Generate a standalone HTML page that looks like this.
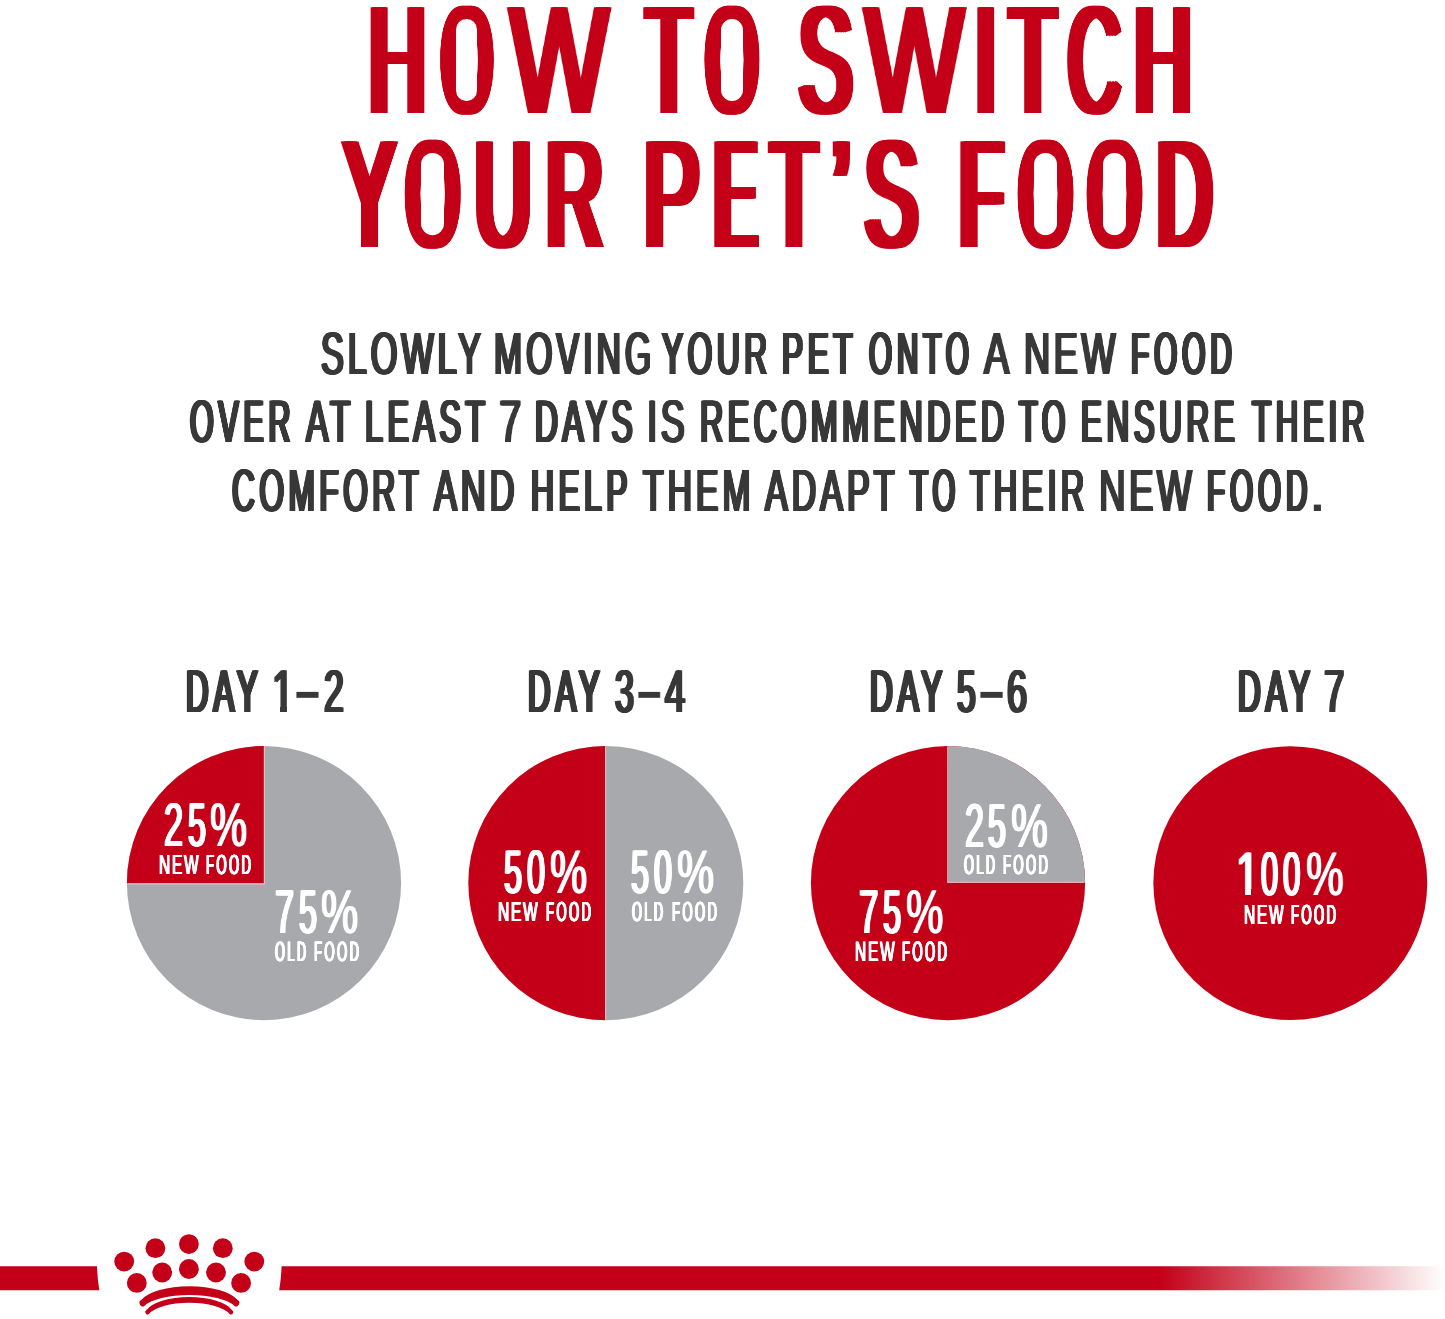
<!DOCTYPE html>
<html lang="en">
<head>
<meta charset="utf-8">
<title>How to switch your pet's food</title>
<style>
html,body{margin:0;padding:0;background:#fff;}
body{width:1445px;height:1319px;position:relative;overflow:hidden;font-family:"Liberation Sans",sans-serif;}
.t{position:absolute;white-space:nowrap;line-height:1;font-weight:400;transform-origin:0 0;margin:0;padding:0;text-rendering:geometricPrecision;will-change:transform;}
svg{position:absolute;left:0;top:0;}
.m{position:absolute;display:block;}
</style>
</head>
<body>
<svg width="1445" height="1319" viewBox="0 0 1445 1319">
  <defs>
    <linearGradient id="fade" gradientUnits="userSpaceOnUse" x1="1160" y1="0" x2="1445" y2="0">
      <stop offset="0" stop-color="#c40018"/>
      <stop offset="1" stop-color="#ffffff"/>
    </linearGradient>
  </defs>
  <!-- pie 1 : 25% new / 75% old -->
  <circle cx="264.0" cy="883.1" r="137.1" fill="#a8a9ac"/>
  <path d="M263.9 883.2 L126.90 883.2 A137.1 137.1 0 0 1 263.9 746.00 Z" fill="#c40018"/>
  <!-- pie 2 : 50 / 50 -->
  <circle cx="606.2" cy="883.1" r="137.1" fill="#a8a9ac"/>
  <path d="M605.4 746.00 A137.1 137.1 0 0 0 605.4 1020.20 Z" fill="#c40018"/>
  <!-- pie 3 : 75% new / 25% old -->
  <circle cx="948.0" cy="883.1" r="137.1" fill="#c40018"/>
  <path d="M948.1 882.0 L948.1 746.00 A137.1 137.1 0 0 1 1085.10 882.0 Z" fill="#a8a9ac"/>
  <g stroke="#ecc9cc" stroke-width="1.1" fill="none" stroke-opacity="0.85">
    <path d="M127.40 883.9 L264.4 883.9 L264.4 746.30"/>
    <path d="M605.6 746.30 L605.6 1019.90"/>
    <path d="M947.7 746.30 L947.7 882.4 L1084.60 882.4"/>
  </g>
  <!-- pie 4 : 100% -->
  <circle cx="1290.3" cy="883.1" r="136.95" fill="#c40018"/>

  <!-- footer bar -->
  <path d="M0 1266.2 L97.0 1266.2 Q97.4 1279 99.3 1290.2 L0 1290.2 Z" fill="#c40018"/>
  <path d="M281.6 1266.2 L1445 1266.2 L1445 1290.2 L279.2 1290.2 Q281.1 1279 281.6 1266.2 Z" fill="url(#fade)"/>

  <!-- crown -->
  <g fill="#c40018">
    <circle cx="155.4" cy="1248.2" r="9.9"/>
    <circle cx="188.9" cy="1244.1" r="9.9"/>
    <circle cx="222.8" cy="1248.2" r="9.9"/>
    <circle cx="124.2" cy="1261.6" r="9.9"/>
    <circle cx="254.3" cy="1261.6" r="9.9"/>
    <circle cx="162.2" cy="1272.5" r="9.9"/>
    <circle cx="188.9" cy="1269"   r="9.9"/>
    <circle cx="216"   cy="1272.5" r="9.9"/>
    <circle cx="136.8" cy="1282.9" r="9.9"/>
    <circle cx="241.1" cy="1282.9" r="9.9"/>
  </g>
  <path d="M141.24 1300.09 A50.46 19.8 0 0 1 237.56 1300.09 A3.3 3.3 0 0 1 234.44 1305.91 A47.48 16.1 0 0 0 144.36 1305.91 A3.3 3.3 0 0 1 141.24 1300.09 Z" fill="#c40018"/>
  <path d="M146.33 1310.22 A44.52 18 0 0 1 232.17 1310.22 A2.3 2.3 0 0 1 229.83 1314.18 A42.21 15.7 0 0 0 148.67 1314.18 A2.3 2.3 0 0 1 146.33 1310.22 Z" fill="#c40018"/>
</svg>
<div><span class="t" style="left:368.61px;top:-15.90px;font-size:153.75px;letter-spacing:28.38px;transform:scaleX(0.5129);color:#c40018;text-shadow:3.17px 0 0,-3.17px 0 0,6.34px 0 0,-6.34px 0 0,9.50px 0 0,-9.50px 0 0">H</span><span class="t" style="left:441.90px;top:-15.90px;font-size:153.75px;letter-spacing:40.64px;transform:scaleX(0.4175);color:#c40018;text-shadow:2.94px 0 0,-2.94px 0 0,5.88px 0 0,-5.88px 0 0,8.82px 0 0,-8.82px 0 0,11.76px 0 0,-11.76px 0 0">O</span><i class="m" style="left:456.40px;top:18.80px;width:20.90px;height:81.90px;border-radius:10.45px;background:#fff"></i><span class="t" style="left:510.10px;top:-15.90px;font-size:153.75px;letter-spacing:12.11px;transform:scaleX(0.6766);color:#c40018;text-shadow:2.74px 0 0,-2.74px 0 0,5.47px 0 0,-5.47px 0 0">W</span> <span class="t" style="left:647.01px;top:-15.90px;font-size:153.75px;letter-spacing:35.22px;transform:scaleX(0.4656);color:#c40018;text-shadow:2.80px 0 0,-2.80px 0 0,5.60px 0 0,-5.60px 0 0,8.40px 0 0,-8.40px 0 0,11.20px 0 0,-11.20px 0 0">T</span><span class="t" style="left:706.16px;top:-15.90px;font-size:153.75px;letter-spacing:37.61px;transform:scaleX(0.4340);color:#c40018;text-shadow:2.76px 0 0,-2.76px 0 0,5.52px 0 0,-5.52px 0 0,8.28px 0 0,-8.28px 0 0,11.03px 0 0,-11.03px 0 0">O</span><i class="m" style="left:720.90px;top:18.80px;width:22.40px;height:81.90px;border-radius:11.20px;background:#fff"></i> <span class="t" style="left:798.68px;top:-15.90px;font-size:153.75px;letter-spacing:27.69px;transform:scaleX(0.5182);color:#c40018;text-shadow:3.11px 0 0,-3.11px 0 0,6.22px 0 0,-6.22px 0 0,9.33px 0 0,-9.33px 0 0">S</span><span class="t" style="left:865.08px;top:-15.90px;font-size:153.75px;letter-spacing:11.94px;transform:scaleX(0.6789);color:#c40018;text-shadow:2.71px 0 0,-2.71px 0 0,5.43px 0 0,-5.43px 0 0">W</span><span class="t" style="left:974.05px;top:-15.90px;font-size:153.75px;letter-spacing:0.00px;transform:scaleX(0.5500);color:#c40018;text-shadow:2.64px 0 0,-2.64px 0 0,5.28px 0 0,-5.28px 0 0,7.92px 0 0,-7.92px 0 0">I</span><span class="t" style="left:1009.69px;top:-15.90px;font-size:153.75px;letter-spacing:32.07px;transform:scaleX(0.4862);color:#c40018;text-shadow:2.60px 0 0,-2.60px 0 0,5.21px 0 0,-5.21px 0 0,7.81px 0 0,-7.81px 0 0,10.42px 0 0,-10.42px 0 0">T</span><span class="t" style="left:1067.84px;top:-15.90px;font-size:153.75px;letter-spacing:31.56px;transform:scaleX(0.4713);color:#c40018;text-shadow:3.20px 0 0,-3.20px 0 0,6.40px 0 0,-6.40px 0 0,9.60px 0 0,-9.60px 0 0">C</span><span class="t" style="left:1134.44px;top:-15.90px;font-size:153.75px;letter-spacing:27.30px;transform:scaleX(0.5213);color:#c40018;text-shadow:3.08px 0 0,-3.08px 0 0,6.16px 0 0,-6.16px 0 0,9.24px 0 0,-9.24px 0 0">H</span></div>
<div><span class="t" style="left:344.23px;top:118.10px;font-size:153.46px;letter-spacing:30.50px;transform:scaleX(0.4978);color:#c40018;text-shadow:3.34px 0 0,-3.34px 0 0,6.68px 0 0,-6.68px 0 0,10.02px 0 0,-10.02px 0 0">Y</span><span class="t" style="left:405.79px;top:118.10px;font-size:153.46px;letter-spacing:35.46px;transform:scaleX(0.4470);color:#c40018;text-shadow:2.63px 0 0,-2.63px 0 0,5.26px 0 0,-5.26px 0 0,7.89px 0 0,-7.89px 0 0,10.52px 0 0,-10.52px 0 0">O</span><i class="m" style="left:420.70px;top:153.40px;width:23.50px;height:81.70px;border-radius:11.75px;background:#fff"></i><span class="t" style="left:474.93px;top:118.10px;font-size:153.46px;letter-spacing:29.30px;transform:scaleX(0.5066);color:#c40018;text-shadow:3.24px 0 0,-3.24px 0 0,6.48px 0 0,-6.48px 0 0,9.73px 0 0,-9.73px 0 0">U</span><span class="t" style="left:546.22px;top:118.10px;font-size:153.46px;letter-spacing:28.45px;transform:scaleX(0.5129);color:#c40018;text-shadow:3.17px 0 0,-3.17px 0 0,6.34px 0 0,-6.34px 0 0,9.52px 0 0,-9.52px 0 0">R</span> <span class="t" style="left:643.52px;top:118.10px;font-size:153.46px;letter-spacing:24.69px;transform:scaleX(0.5433);color:#c40018;text-shadow:2.86px 0 0,-2.86px 0 0,5.72px 0 0,-5.72px 0 0,8.58px 0 0,-8.58px 0 0">P</span><span class="t" style="left:715.38px;top:118.10px;font-size:153.46px;letter-spacing:47.78px;transform:scaleX(0.3984);color:#c40018;text-shadow:2.86px 0 0,-2.86px 0 0,5.72px 0 0,-5.72px 0 0,8.58px 0 0,-8.58px 0 0,11.45px 0 0,-11.45px 0 0,14.31px 0 0,-14.31px 0 0">E</span><span class="t" style="left:771.36px;top:118.10px;font-size:153.46px;letter-spacing:31.61px;transform:scaleX(0.4899);color:#c40018;text-shadow:2.57px 0 0,-2.57px 0 0,5.15px 0 0,-5.15px 0 0,7.72px 0 0,-7.72px 0 0,10.30px 0 0,-10.30px 0 0">T</span><span class="t" style="left:831.75px;top:118.10px;font-size:153.46px;letter-spacing:0.00px;transform:scaleX(0.5500);color:#c40018;text-shadow:2.81px 0 0,-2.81px 0 0,5.61px 0 0,-5.61px 0 0,8.42px 0 0,-8.42px 0 0">’</span><span class="t" style="left:864.73px;top:118.10px;font-size:153.46px;letter-spacing:28.16px;transform:scaleX(0.5151);color:#c40018;text-shadow:3.15px 0 0,-3.15px 0 0,6.30px 0 0,-6.30px 0 0,9.44px 0 0,-9.44px 0 0">S</span> <span class="t" style="left:959.87px;top:118.10px;font-size:153.46px;letter-spacing:37.07px;transform:scaleX(0.4547);color:#c40018;text-shadow:2.91px 0 0,-2.91px 0 0,5.83px 0 0,-5.83px 0 0,8.74px 0 0,-8.74px 0 0,11.65px 0 0,-11.65px 0 0">F</span><span class="t" style="left:1018.83px;top:118.10px;font-size:153.46px;letter-spacing:36.02px;transform:scaleX(0.4437);color:#c40018;text-shadow:2.66px 0 0,-2.66px 0 0,5.33px 0 0,-5.33px 0 0,7.99px 0 0,-7.99px 0 0,10.65px 0 0,-10.65px 0 0">O</span><i class="m" style="left:1033.70px;top:153.40px;width:23.20px;height:81.70px;border-radius:11.60px;background:#fff"></i><span class="t" style="left:1087.63px;top:118.10px;font-size:153.46px;letter-spacing:36.02px;transform:scaleX(0.4437);color:#c40018;text-shadow:2.66px 0 0,-2.66px 0 0,5.33px 0 0,-5.33px 0 0,7.99px 0 0,-7.99px 0 0,10.65px 0 0,-10.65px 0 0">O</span><i class="m" style="left:1102.50px;top:153.40px;width:23.20px;height:81.70px;border-radius:11.60px;background:#fff"></i><span class="t" style="left:1157.48px;top:118.10px;font-size:153.46px;letter-spacing:30.93px;transform:scaleX(0.4947);color:#c40018;text-shadow:2.53px 0 0,-2.53px 0 0,5.07px 0 0,-5.07px 0 0,7.60px 0 0,-7.60px 0 0,10.13px 0 0,-10.13px 0 0">D</span></div>
<div><span class="t" style="left:321.24px;top:324.10px;font-size:59.76px;letter-spacing:7.07px;transform:scaleX(0.5709);color:#383838;text-shadow:1.23px 0 0,-1.23px 0 0,2.47px 0 0,-2.47px 0 0">SLOWLY</span> <span class="t" style="left:494.07px;top:324.10px;font-size:59.76px;letter-spacing:7.33px;transform:scaleX(0.5634);color:#383838;text-shadow:1.27px 0 0,-1.27px 0 0,2.54px 0 0,-2.54px 0 0">MOVING</span> <span class="t" style="left:662.10px;top:324.10px;font-size:59.76px;letter-spacing:8.64px;transform:scaleX(0.5292);color:#383838;text-shadow:0.96px 0 0,-0.96px 0 0,1.92px 0 0,-1.92px 0 0,2.88px 0 0,-2.88px 0 0">YOUR</span> <span class="t" style="left:782.14px;top:324.10px;font-size:59.76px;letter-spacing:8.68px;transform:scaleX(0.5282);color:#383838;text-shadow:0.96px 0 0,-0.96px 0 0,1.93px 0 0,-1.93px 0 0,2.89px 0 0,-2.89px 0 0">PET</span> <span class="t" style="left:868.94px;top:324.10px;font-size:59.76px;letter-spacing:10.18px;transform:scaleX(0.4939);color:#383838;text-shadow:1.10px 0 0,-1.10px 0 0,2.19px 0 0,-2.19px 0 0,3.29px 0 0,-3.29px 0 0">ONTO</span> <span class="t" style="left:984.42px;top:324.10px;font-size:59.76px;letter-spacing:5.09px;transform:scaleX(0.6334);color:#383838;text-shadow:0.98px 0 0,-0.98px 0 0,1.95px 0 0,-1.95px 0 0">A</span> <span class="t" style="left:1024.35px;top:324.10px;font-size:59.76px;letter-spacing:5.96px;transform:scaleX(0.6045);color:#383838;text-shadow:1.09px 0 0,-1.09px 0 0,2.18px 0 0,-2.18px 0 0">NEW</span> <span class="t" style="left:1130.88px;top:324.10px;font-size:59.76px;letter-spacing:10.01px;transform:scaleX(0.4975);color:#383838;text-shadow:1.08px 0 0,-1.08px 0 0,2.16px 0 0,-2.16px 0 0,3.25px 0 0,-3.25px 0 0">FOOD</span></div>
<div><span class="t" style="left:190.17px;top:392.10px;font-size:60.05px;letter-spacing:9.65px;transform:scaleX(0.5040);color:#383838;text-shadow:1.05px 0 0,-1.05px 0 0,2.10px 0 0,-2.10px 0 0,3.15px 0 0,-3.15px 0 0">OVER</span> <span class="t" style="left:306.43px;top:392.10px;font-size:60.05px;letter-spacing:7.46px;transform:scaleX(0.5580);color:#383838;text-shadow:1.29px 0 0,-1.29px 0 0,2.58px 0 0,-2.58px 0 0">AT</span> <span class="t" style="left:365.34px;top:392.10px;font-size:60.05px;letter-spacing:8.21px;transform:scaleX(0.5383);color:#383838;text-shadow:0.92px 0 0,-0.92px 0 0,1.85px 0 0,-1.85px 0 0,2.77px 0 0,-2.77px 0 0">LEAST</span> <span class="t" style="left:498.67px;top:392.10px;font-size:60.05px;letter-spacing:4.00px;transform:scaleX(0.6719);color:#383838;text-shadow:0.83px 0 0,-0.83px 0 0,1.67px 0 0,-1.67px 0 0">7</span> <span class="t" style="left:534.92px;top:392.10px;font-size:60.05px;letter-spacing:8.64px;transform:scaleX(0.5275);color:#383838;text-shadow:0.96px 0 0,-0.96px 0 0,1.93px 0 0,-1.93px 0 0,2.89px 0 0,-2.89px 0 0">DAYS</span> <span class="t" style="left:647.38px;top:392.10px;font-size:60.05px;letter-spacing:5.97px;transform:scaleX(0.6020);color:#383838;text-shadow:1.09px 0 0,-1.09px 0 0,2.18px 0 0,-2.18px 0 0">IS</span> <span class="t" style="left:700.15px;top:392.10px;font-size:60.05px;letter-spacing:8.27px;transform:scaleX(0.5368);color:#383838;text-shadow:0.93px 0 0,-0.93px 0 0,1.86px 0 0,-1.86px 0 0,2.79px 0 0,-2.79px 0 0">RECOMMENDED</span> <span class="t" style="left:1019.21px;top:392.10px;font-size:60.05px;letter-spacing:9.61px;transform:scaleX(0.5050);color:#383838;text-shadow:1.05px 0 0,-1.05px 0 0,2.09px 0 0,-2.09px 0 0,3.14px 0 0,-3.14px 0 0">TO</span> <span class="t" style="left:1080.58px;top:392.10px;font-size:60.05px;letter-spacing:8.91px;transform:scaleX(0.5210);color:#383838;text-shadow:0.99px 0 0,-0.99px 0 0,1.97px 0 0,-1.97px 0 0,2.96px 0 0,-2.96px 0 0">ENSURE</span> <span class="t" style="left:1251.54px;top:392.10px;font-size:60.05px;letter-spacing:8.94px;transform:scaleX(0.5205);color:#383838;text-shadow:0.99px 0 0,-0.99px 0 0,1.98px 0 0,-1.98px 0 0,2.96px 0 0,-2.96px 0 0">THEIR</span></div>
<div><span class="t" style="left:232.13px;top:461.10px;font-size:59.76px;letter-spacing:8.68px;transform:scaleX(0.5281);color:#383838;text-shadow:0.97px 0 0,-0.97px 0 0,1.93px 0 0,-1.93px 0 0,2.90px 0 0,-2.90px 0 0">COMFORT</span> <span class="t" style="left:433.79px;top:461.10px;font-size:59.76px;letter-spacing:6.95px;transform:scaleX(0.5742);color:#383838;text-shadow:1.22px 0 0,-1.22px 0 0,2.44px 0 0,-2.44px 0 0">AND</span> <span class="t" style="left:530.73px;top:461.10px;font-size:59.76px;letter-spacing:8.61px;transform:scaleX(0.5300);color:#383838;text-shadow:0.96px 0 0,-0.96px 0 0,1.92px 0 0,-1.92px 0 0,2.88px 0 0,-2.88px 0 0">HELP</span> <span class="t" style="left:642.89px;top:461.10px;font-size:59.76px;letter-spacing:7.43px;transform:scaleX(0.5607);color:#383838;text-shadow:1.28px 0 0,-1.28px 0 0,2.57px 0 0,-2.57px 0 0">THEM</span> <span class="t" style="left:764.71px;top:461.10px;font-size:59.76px;letter-spacing:7.18px;transform:scaleX(0.5676);color:#383838;text-shadow:1.25px 0 0,-1.25px 0 0,2.50px 0 0,-2.50px 0 0">ADAPT</span> <span class="t" style="left:909.68px;top:461.10px;font-size:59.76px;letter-spacing:10.34px;transform:scaleX(0.4906);color:#383838;text-shadow:1.11px 0 0,-1.11px 0 0,2.22px 0 0,-2.22px 0 0,3.33px 0 0,-3.33px 0 0">TO</span> <span class="t" style="left:970.39px;top:461.10px;font-size:59.76px;letter-spacing:8.34px;transform:scaleX(0.5366);color:#383838;text-shadow:0.94px 0 0,-0.94px 0 0,1.87px 0 0,-1.87px 0 0,2.81px 0 0,-2.81px 0 0">THEIR</span> <span class="t" style="left:1098.66px;top:461.10px;font-size:59.76px;letter-spacing:5.60px;transform:scaleX(0.6161);color:#383838;text-shadow:1.04px 0 0,-1.04px 0 0,2.08px 0 0,-2.08px 0 0">NEW</span> <span class="t" style="left:1206.80px;top:461.10px;font-size:59.76px;letter-spacing:10.17px;transform:scaleX(0.4942);color:#383838;text-shadow:1.10px 0 0,-1.10px 0 0,2.19px 0 0,-2.19px 0 0,3.29px 0 0,-3.29px 0 0">FOOD</span><span class="t" style="left:1306.98px;top:461.10px;font-size:59.76px;letter-spacing:0.00px;transform:scaleX(1.2509);color:#383838;text-shadow:none">.</span></div>
<div><span class="t" style="left:185.94px;top:662.10px;font-size:60.20px;letter-spacing:9.61px;transform:scaleX(0.5176);color:#383838;text-shadow:1.09px 0 0,-1.09px 0 0,2.19px 0 0,-2.19px 0 0,3.28px 0 0,-3.28px 0 0">DAY</span> <span class="t" style="left:271.57px;top:662.10px;font-size:60.20px;transform:scaleX(0.6538);color:#383838;text-shadow:1.18px 0 0,-1.18px 0 0,2.37px 0 0,-2.37px 0 0">1</span><i class="m" style="left:271.51px;top:706.29px;width:8.39px;height:6.91px;background:#fff"></i><i class="m" style="left:286.50px;top:706.29px;width:8.07px;height:6.91px;background:#fff"></i><span class="t" style="left:295.15px;top:661.10px;font-size:60.20px;font-weight:700;letter-spacing:0.00px;transform:scaleX(0.7416);color:#383838;text-shadow:none">–</span><span class="t" style="left:323.50px;top:662.10px;font-size:60.20px;letter-spacing:6.78px;transform:scaleX(0.5915);color:#383838;text-shadow:1.26px 0 0,-1.26px 0 0,2.52px 0 0,-2.52px 0 0">2</span></div>
<div><span class="t" style="left:527.94px;top:662.10px;font-size:60.20px;letter-spacing:9.61px;transform:scaleX(0.5176);color:#383838;text-shadow:1.09px 0 0,-1.09px 0 0,2.19px 0 0,-2.19px 0 0,3.28px 0 0,-3.28px 0 0">DAY</span> <span class="t" style="left:614.96px;top:662.10px;font-size:60.20px;letter-spacing:7.77px;transform:scaleX(0.5635);color:#383838;text-shadow:0.93px 0 0,-0.93px 0 0,1.86px 0 0,-1.86px 0 0,2.78px 0 0,-2.78px 0 0">3</span><span class="t" style="left:637.47px;top:661.10px;font-size:60.20px;font-weight:700;letter-spacing:0.00px;transform:scaleX(0.7315);color:#383838;text-shadow:none">–</span><span class="t" style="left:665.33px;top:662.10px;font-size:60.20px;letter-spacing:6.44px;transform:scaleX(0.6020);color:#383838;text-shadow:1.21px 0 0,-1.21px 0 0,2.43px 0 0,-2.43px 0 0">4</span></div>
<div><span class="t" style="left:869.69px;top:662.10px;font-size:60.20px;letter-spacing:9.34px;transform:scaleX(0.5237);color:#383838;text-shadow:1.07px 0 0,-1.07px 0 0,2.14px 0 0,-2.14px 0 0,3.21px 0 0,-3.21px 0 0">DAY</span> <span class="t" style="left:956.97px;top:662.10px;font-size:60.20px;letter-spacing:7.93px;transform:scaleX(0.5590);color:#383838;text-shadow:0.94px 0 0,-0.94px 0 0,1.89px 0 0,-1.89px 0 0,2.83px 0 0,-2.83px 0 0">5</span><span class="t" style="left:979.24px;top:661.10px;font-size:60.20px;font-weight:700;letter-spacing:0.00px;transform:scaleX(0.7483);color:#383838;text-shadow:none">–</span><span class="t" style="left:1007.26px;top:662.10px;font-size:60.20px;letter-spacing:6.64px;transform:scaleX(0.5957);color:#383838;text-shadow:1.24px 0 0,-1.24px 0 0,2.48px 0 0,-2.48px 0 0">6</span></div>
<div><span class="t" style="left:1237.61px;top:662.10px;font-size:60.20px;letter-spacing:9.45px;transform:scaleX(0.5212);color:#383838;text-shadow:1.08px 0 0,-1.08px 0 0,2.16px 0 0,-2.16px 0 0,3.24px 0 0,-3.24px 0 0">DAY</span> <span class="t" style="left:1323.57px;top:662.10px;font-size:60.20px;letter-spacing:6.16px;transform:scaleX(0.6106);color:#383838;text-shadow:1.18px 0 0,-1.18px 0 0,2.35px 0 0,-2.35px 0 0">7</span></div>
<div><span class="t" style="left:163.81px;top:795.10px;font-size:61.67px;letter-spacing:8.34px;transform:scaleX(0.5553);color:#fff;text-shadow:1.02px 0 0,-1.02px 0 0,2.03px 0 0,-2.03px 0 0">2</span><span class="t" style="left:187.52px;top:795.10px;font-size:61.67px;letter-spacing:9.65px;transform:scaleX(0.5206);color:#fff;text-shadow:1.18px 0 0,-1.18px 0 0,2.36px 0 0,-2.36px 0 0">5</span><span class="t" style="left:210.21px;top:795.10px;font-size:61.67px;letter-spacing:4.89px;transform:scaleX(0.6746);color:#fff;text-shadow:1.17px 0 0,-1.17px 0 0">%</span></div>
<div><span class="t" style="left:159.27px;top:851.10px;font-size:27.70px;letter-spacing:3.38px;transform:scaleX(0.5555);color:#fff;text-shadow:0.57px 0 0,-0.57px 0 0,1.14px 0 0,-1.14px 0 0">NEW</span> <span class="t" style="left:206.26px;top:851.10px;font-size:27.70px;letter-spacing:4.99px;transform:scaleX(0.4739);color:#fff;text-shadow:0.52px 0 0,-0.52px 0 0,1.04px 0 0,-1.04px 0 0,1.56px 0 0,-1.56px 0 0">FOOD</span></div>
<div><span class="t" style="left:274.78px;top:882.10px;font-size:61.71px;letter-spacing:8.29px;transform:scaleX(0.5567);color:#fff;text-shadow:1.01px 0 0,-1.01px 0 0,2.02px 0 0,-2.02px 0 0">7</span><span class="t" style="left:298.54px;top:882.10px;font-size:61.71px;letter-spacing:9.62px;transform:scaleX(0.5212);color:#fff;text-shadow:1.18px 0 0,-1.18px 0 0,2.35px 0 0,-2.35px 0 0">5</span><span class="t" style="left:321.26px;top:882.10px;font-size:61.71px;letter-spacing:4.87px;transform:scaleX(0.6752);color:#fff;text-shadow:1.16px 0 0,-1.16px 0 0">%</span></div>
<div><span class="t" style="left:274.76px;top:938.10px;font-size:27.85px;letter-spacing:5.35px;transform:scaleX(0.4575);color:#fff;text-shadow:0.55px 0 0,-0.55px 0 0,1.10px 0 0,-1.10px 0 0,1.65px 0 0,-1.65px 0 0">OLD</span> <span class="t" style="left:314.06px;top:938.10px;font-size:27.85px;letter-spacing:5.02px;transform:scaleX(0.4715);color:#fff;text-shadow:0.52px 0 0,-0.52px 0 0,1.04px 0 0,-1.04px 0 0,1.57px 0 0,-1.57px 0 0">FOOD</span></div>
<div><span class="t" style="left:503.64px;top:842.10px;font-size:61.44px;letter-spacing:9.37px;transform:scaleX(0.5286);color:#fff;text-shadow:1.15px 0 0,-1.15px 0 0,2.29px 0 0,-2.29px 0 0">5</span><span class="t" style="left:526.88px;top:842.10px;font-size:61.44px;letter-spacing:9.61px;transform:scaleX(0.5224);color:#fff;text-shadow:1.18px 0 0,-1.18px 0 0,2.35px 0 0,-2.35px 0 0">0</span><span class="t" style="left:549.61px;top:842.10px;font-size:61.44px;letter-spacing:4.82px;transform:scaleX(0.6790);color:#fff;text-shadow:1.15px 0 0,-1.15px 0 0">%</span></div>
<div><span class="t" style="left:498.17px;top:898.10px;font-size:27.56px;letter-spacing:3.36px;transform:scaleX(0.5584);color:#fff;text-shadow:0.57px 0 0,-0.57px 0 0,1.13px 0 0,-1.13px 0 0">NEW</span> <span class="t" style="left:546.06px;top:898.10px;font-size:27.56px;letter-spacing:4.96px;transform:scaleX(0.4764);color:#fff;text-shadow:0.52px 0 0,-0.52px 0 0,1.03px 0 0,-1.03px 0 0,1.55px 0 0,-1.55px 0 0">FOOD</span></div>
<div><span class="t" style="left:631.16px;top:842.10px;font-size:61.44px;letter-spacing:9.48px;transform:scaleX(0.5258);color:#fff;text-shadow:1.16px 0 0,-1.16px 0 0,2.32px 0 0,-2.32px 0 0">5</span><span class="t" style="left:654.30px;top:842.10px;font-size:61.44px;letter-spacing:9.72px;transform:scaleX(0.5197);color:#fff;text-shadow:1.19px 0 0,-1.19px 0 0,2.38px 0 0,-2.38px 0 0">0</span><span class="t" style="left:676.96px;top:842.10px;font-size:61.44px;letter-spacing:4.89px;transform:scaleX(0.6761);color:#fff;text-shadow:1.17px 0 0,-1.17px 0 0">%</span></div>
<div><span class="t" style="left:631.86px;top:898.10px;font-size:27.56px;letter-spacing:5.30px;transform:scaleX(0.4623);color:#fff;text-shadow:0.55px 0 0,-0.55px 0 0,1.09px 0 0,-1.09px 0 0,1.64px 0 0,-1.64px 0 0">OLD</span> <span class="t" style="left:671.86px;top:898.10px;font-size:27.56px;letter-spacing:4.96px;transform:scaleX(0.4764);color:#fff;text-shadow:0.52px 0 0,-0.52px 0 0,1.03px 0 0,-1.03px 0 0,1.55px 0 0,-1.55px 0 0">FOOD</span></div>
<div><span class="t" style="left:964.72px;top:796.10px;font-size:61.81px;letter-spacing:8.43px;transform:scaleX(0.5521);color:#fff;text-shadow:1.03px 0 0,-1.03px 0 0,2.06px 0 0,-2.06px 0 0">2</span><span class="t" style="left:988.37px;top:796.10px;font-size:61.81px;letter-spacing:9.74px;transform:scaleX(0.5176);color:#fff;text-shadow:1.19px 0 0,-1.19px 0 0,2.38px 0 0,-2.38px 0 0">5</span><span class="t" style="left:1011.01px;top:796.10px;font-size:61.81px;letter-spacing:4.95px;transform:scaleX(0.6711);color:#fff;text-shadow:1.18px 0 0,-1.18px 0 0">%</span></div>
<div><span class="t" style="left:964.16px;top:851.10px;font-size:27.70px;letter-spacing:5.32px;transform:scaleX(0.4599);color:#fff;text-shadow:0.55px 0 0,-0.55px 0 0,1.10px 0 0,-1.10px 0 0,1.64px 0 0,-1.64px 0 0">OLD</span> <span class="t" style="left:1002.86px;top:851.10px;font-size:27.70px;letter-spacing:4.99px;transform:scaleX(0.4739);color:#fff;text-shadow:0.52px 0 0,-0.52px 0 0,1.04px 0 0,-1.04px 0 0,1.56px 0 0,-1.56px 0 0">FOOD</span></div>
<div><span class="t" style="left:858.84px;top:882.10px;font-size:61.71px;letter-spacing:8.05px;transform:scaleX(0.5635);color:#fff;text-shadow:0.98px 0 0,-0.98px 0 0,1.96px 0 0,-1.96px 0 0">7</span><span class="t" style="left:882.81px;top:882.10px;font-size:61.71px;letter-spacing:9.36px;transform:scaleX(0.5276);color:#fff;text-shadow:1.14px 0 0,-1.14px 0 0,2.29px 0 0,-2.29px 0 0">5</span><span class="t" style="left:905.72px;top:882.10px;font-size:61.71px;letter-spacing:4.71px;transform:scaleX(0.6820);color:#fff;text-shadow:1.12px 0 0,-1.12px 0 0">%</span></div>
<div><span class="t" style="left:855.37px;top:938.10px;font-size:28.14px;letter-spacing:3.43px;transform:scaleX(0.5469);color:#fff;text-shadow:0.58px 0 0,-0.58px 0 0,1.16px 0 0,-1.16px 0 0">NEW</span> <span class="t" style="left:901.86px;top:938.10px;font-size:28.14px;letter-spacing:5.07px;transform:scaleX(0.4666);color:#fff;text-shadow:0.53px 0 0,-0.53px 0 0,1.05px 0 0,-1.05px 0 0,1.58px 0 0,-1.58px 0 0">FOOD</span></div>
<div><span class="t" style="left:1235.75px;top:844.10px;font-size:61.44px;transform:scaleX(0.6720);color:#fff;text-shadow:0.98px 0 0,-0.98px 0 0,1.95px 0 0,-1.95px 0 0">1</span><i class="m" style="left:1236.07px;top:889.19px;width:8.73px;height:7.01px;background:#c40018"></i><i class="m" style="left:1251.10px;top:889.19px;width:8.40px;height:7.01px;background:#c40018"></i><span class="t" style="left:1261.21px;top:844.10px;font-size:61.44px;letter-spacing:10.67px;transform:scaleX(0.4971);color:#fff;text-shadow:1.31px 0 0,-1.31px 0 0,2.62px 0 0,-2.62px 0 0">0</span><span class="t" style="left:1283.26px;top:844.10px;font-size:61.44px;letter-spacing:10.31px;transform:scaleX(0.5055);color:#fff;text-shadow:1.26px 0 0,-1.26px 0 0,2.53px 0 0,-2.53px 0 0">0</span><span class="t" style="left:1306.06px;top:844.10px;font-size:61.44px;letter-spacing:4.56px;transform:scaleX(0.6903);color:#fff;text-shadow:1.08px 0 0,-1.08px 0 0">%</span></div>
<div><span class="t" style="left:1243.77px;top:901.10px;font-size:27.70px;letter-spacing:3.38px;transform:scaleX(0.5555);color:#fff;text-shadow:0.57px 0 0,-0.57px 0 0,1.14px 0 0,-1.14px 0 0">NEW</span> <span class="t" style="left:1291.16px;top:901.10px;font-size:27.70px;letter-spacing:4.99px;transform:scaleX(0.4739);color:#fff;text-shadow:0.52px 0 0,-0.52px 0 0,1.04px 0 0,-1.04px 0 0,1.56px 0 0,-1.56px 0 0">FOOD</span></div>

</body>
</html>
